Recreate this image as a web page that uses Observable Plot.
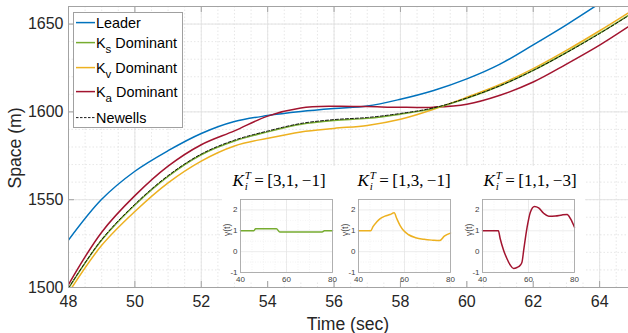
<!DOCTYPE html>
<html><head><meta charset="utf-8">
<script src="https://cdn.jsdelivr.net/npm/d3@7"></script>
<script src="https://cdn.jsdelivr.net/npm/@observablehq/plot@0.6"></script>
<style>
body{margin:0;background:#fff;font-family:"Liberation Sans",Arial,sans-serif;}
#wrap{position:relative;width:628px;height:333px;overflow:hidden;background:#fff;}
.abs{position:absolute;}
.lg{position:absolute;left:76px;height:18px;line-height:18px;font-size:14.4px;color:#000;white-space:nowrap;}
.lg svg{vertical-align:top;}
.sub{position:relative;top:5px;font-size:11.5px;}
.ttl{position:absolute;font-family:"Liberation Serif","DejaVu Serif",serif;font-size:17px;line-height:20px;white-space:nowrap;transform:translateX(-50%);color:#000;}
.ss{display:inline-flex;flex-direction:column;font-size:11px;line-height:11px;vertical-align:7px;margin-left:1px;}
</style></head><body><div id="wrap"></div>
<script>
// ---- main chart data ----
const time   = [48,49,50,51,52,53,54,55,56,57,58,59,60,61,62,63,64,65];
const leader = [1527,1550.2,1566.2,1577.9,1587.7,1594.5,1597.9,1600.2,1601.9,1603.3,1607.2,1612.2,1618.8,1627.2,1638.2,1649.6,1661.8,1674.5];
const ksDom  = [1499.5,1527.0,1547.0,1563.3,1575.6,1583.4,1588.6,1592.9,1595.1,1596.3,1598.7,1602.0,1607.7,1614.8,1623.6,1633.8,1644.8,1656.6];
const kvDom  = [1497.0,1524.0,1543.3,1559.6,1572.0,1580.6,1585.0,1588.6,1590.6,1592.3,1595.8,1601.5,1608.3,1615.6,1624.6,1635.0,1646.2,1658.0];
const kaDom  = [1501.7,1531.5,1552.3,1569.1,1581.3,1589.2,1597.6,1602.2,1603.2,1603.0,1602.6,1602.7,1604.4,1609.5,1617.0,1627.2,1638.0,1650.2];
const newell = [1499.7,1527.3,1547.4,1563.7,1576.0,1583.9,1589.1,1593.4,1595.6,1596.8,1599.1,1602.3,1607.9,1614.9,1623.6,1633.7,1644.6,1656.3];
const xTicks = [48,50,52,54,56,58,60,62,64];
const yTicks = [1500,1550,1600,1650];
const seriesNames = ["Leader","Ks Dominant","Kv Dominant","Ka Dominant","Newells"];
const seriesColors = ["#0072BD","#77AC30","#EDB120","#A2142F","#000000"];

// ---- inset data ----
const ksT = [40,45.8,46.6,55.6,57.1,75.5,76.5,80];
const ksV = [1,1,1.1,1.1,0.94,0.94,1,1];
const kvT = [40,45.3,46.3,47.8,49.3,51.5,53.7,55.5,56.7,58.1,59.6,61.8,64.8,68.5,72.2,75.3,77.3,80];
const kvV = [1,1,1.2,1.41,1.57,1.7,1.78,1.86,1.57,1.25,1.01,0.81,0.67,0.59,0.55,0.53,0.74,0.89];
const kaT = [40,46,46.9,47.7,49.2,50.6,52.1,53.5,55.0,56.4,57.2,57.9,59.4,60.8,62.6,64.4,66.6,68.8,71.7,74.6,76.8,78.3,80];
const kaV = [1,1,1,0.62,0.06,-0.33,-0.65,-0.81,-0.76,-0.65,-0.49,0.06,1.17,1.89,2.17,2.1,1.84,1.70,1.71,1.76,1.78,1.57,1.17];
const insetTitles = ["[3,1,\u2009\u22121]","[1,3,\u2009\u22121]","[1,1,\u2009\u22123]"];
const insetXTicks = [40,60,80];
const insetYTicks = [-1,0,1,2];

const wrap = document.getElementById("wrap");
const frameColor = "#a3a3a3";
const toRows = (xs, ys) => xs.map((x,i)=>({x, y: ys[i]}));
const xMinor = d3.range(48, 65, 0.5);
const yMinor = d3.range(1500, 1661, 10);
const plain = d => String(d);

const main = Plot.plot({
  width: 628, height: 333,
  marginLeft: 68, marginRight: 0, marginTop: 6, marginBottom: 46,
  x: {domain: [48, 64.87]},
  y: {domain: [1500, 1660]},
  style: {fontFamily: '"Liberation Sans", Arial, sans-serif', background: "transparent"},
  marks: [
    Plot.ruleX(xMinor, {stroke: "#dcdcdc", strokeWidth: 0.7, strokeDasharray: "1.5,2"}),
    Plot.ruleY(yMinor, {stroke: "#dcdcdc", strokeWidth: 0.7, strokeDasharray: "1.5,2"}),
    Plot.ruleX(xTicks, {stroke: "#e2e2e2", strokeWidth: 0.9}),
    Plot.ruleY(yTicks, {stroke: "#e2e2e2", strokeWidth: 0.9}),
    Plot.line(toRows(time, leader), {x: "x", y: "y", stroke: seriesColors[0], strokeWidth: 1.5, curve: "catmull-rom", clip: true}),
    Plot.line(toRows(time, kaDom), {x: "x", y: "y", stroke: seriesColors[3], strokeWidth: 1.5, curve: "catmull-rom", clip: true}),
    Plot.line(toRows(time, kvDom), {x: "x", y: "y", stroke: seriesColors[2], strokeWidth: 1.5, curve: "catmull-rom", clip: true}),
    Plot.line(toRows(time, ksDom), {x: "x", y: "y", stroke: seriesColors[1], strokeWidth: 1.5, curve: "catmull-rom", clip: true}),
    Plot.line(toRows(time, newell), {x: "x", y: "y", stroke: seriesColors[4], strokeWidth: 0.9, strokeDasharray: "3,2", curve: "catmull-rom", clip: true}),
    Plot.ruleX([48], {stroke: frameColor}),
    Plot.ruleY([1500, 1660], {stroke: frameColor}),
    Plot.tickX(xTicks, {x: d => d, insetTop: 275, stroke: frameColor}),
    Plot.tickX(xTicks, {x: d => d, insetBottom: 275, stroke: frameColor}),
    Plot.tickY(yTicks, {y: d => d, insetRight: 554, stroke: frameColor}),
    Plot.axisX(xTicks, {tickSize: 0, tickPadding: 8, fontSize: 16, color: "#262626", label: null, tickFormat: plain}),
    Plot.axisY(yTicks, {tickSize: 0, tickPadding: 5, fontSize: 16, color: "#262626", label: null, tickFormat: plain})
  ]
});
main.style.position = "absolute"; main.style.left = "0px"; main.style.top = "0px";
wrap.appendChild(main);

// axis labels
const xl = document.createElement("div");
xl.className = "abs"; xl.textContent = "Time (sec)";
Object.assign(xl.style, {left: "348px", top: "316px", fontSize: "17.6px", lineHeight: "17.6px", transform: "translateX(-50%)", color: "#262626", whiteSpace: "nowrap"});
wrap.appendChild(xl);
const yl = document.createElement("div");
yl.className = "abs"; yl.textContent = "Space (m)";
Object.assign(yl.style, {left: "16px", top: "148px", fontSize: "17.6px", lineHeight: "17.6px", transform: "translate(-50%,-50%) rotate(-90deg)", color: "#262626", whiteSpace: "nowrap"});
wrap.appendChild(yl);

// legend
const lgBox = document.createElement("div");
lgBox.className = "abs";
Object.assign(lgBox.style, {left: "73px", top: "12px", width: "108px", height: "114px", border: "1px solid #a0a0a0", background: "#fff"});
wrap.appendChild(lgBox);
const rowCenters = [22.7, 42.8, 67.5, 91.5, 117.5];
seriesNames.forEach((name, i) => {
  const d = document.createElement("div");
  d.className = "lg";
  d.style.top = (rowCenters[i] - 8.6) + "px";
  const dash = i === 4 ? 'stroke-dasharray="2.5,1.5" stroke-width="0.9"' : 'stroke-width="1.5"';
  let label = name;
  const m = name.match(/^K([sva]) (.*)$/);
  if (m) label = `K<span class="sub">${m[1]}</span> ${m[2]}`;
  d.innerHTML = `<svg width="20" height="18"><line x1="0" x2="19" y1="8.6" y2="8.6" stroke="${seriesColors[i]}" ${dash}/></svg>${label}`;
  wrap.appendChild(d);
});

// white backdrop for the insets
const bd = document.createElement("div");
bd.className = "abs";
Object.assign(bd.style, {left: "222px", top: "166px", width: "363px", height: "115px", background: "#fff"});
wrap.appendChild(bd);

function inset(xs, ys, color, left, titleCx, title) {
  const p = Plot.plot({
    width: 118, height: 94,
    marginLeft: 18, marginRight: 8, marginTop: 7, marginBottom: 14,
    x: {domain: [40, 80]},
    y: {domain: [-1, 2.5]},
    style: {fontFamily: '"Liberation Sans", Arial, sans-serif', background: "transparent", overflow: "visible"},
    marks: [
      Plot.ruleX(d3.range(45, 80, 5), {stroke: "#ececec", strokeWidth: 0.6, strokeDasharray: "1,1.5"}),
      Plot.ruleY(d3.range(-0.5, 2.5, 1), {stroke: "#ececec", strokeWidth: 0.6, strokeDasharray: "1,1.5"}),
      Plot.ruleX(insetXTicks, {stroke: "#e4e4e4", strokeWidth: 0.7}),
      Plot.ruleY(insetYTicks, {stroke: "#e4e4e4", strokeWidth: 0.7}),
      Plot.line(toRows(xs, ys), {x: "x", y: "y", stroke: color, strokeWidth: 1.5, curve: "monotone-x"}),
      Plot.frame({stroke: "#a8a8a8", strokeWidth: 0.9}),
      Plot.axisX(insetXTicks, {tickSize: 0, tickPadding: 4, fontSize: 8, color: "#404040", label: null, tickFormat: plain}),
      Plot.axisY(insetYTicks, {tickSize: 0, tickPadding: 3, fontSize: 8, color: "#404040", label: null, tickFormat: plain}),
      Plot.text(["\u03B3(t)"], {frameAnchor: "left", dx: -13, rotate: -90, fontSize: 8.5, fill: "#404040"})
    ]
  });
  p.style.position = "absolute"; p.style.left = left + "px"; p.style.top = "192px";
  wrap.appendChild(p);
  const t = document.createElement("div");
  t.className = "ttl";
  t.style.left = titleCx + "px"; t.style.top = "170px";
  t.innerHTML = `<i>K</i><span class="ss"><i>T</i><i>i</i></span>&#8201;=&#8201;${title}`;
  wrap.appendChild(t);
}
inset(ksT, ksV, seriesColors[1], 222, 279, insetTitles[0]);
inset(kvT, kvV, seriesColors[2], 340, 404, insetTitles[1]);
inset(kaT, kaV, seriesColors[3], 464, 530, insetTitles[2]);
</script>
</body></html>
